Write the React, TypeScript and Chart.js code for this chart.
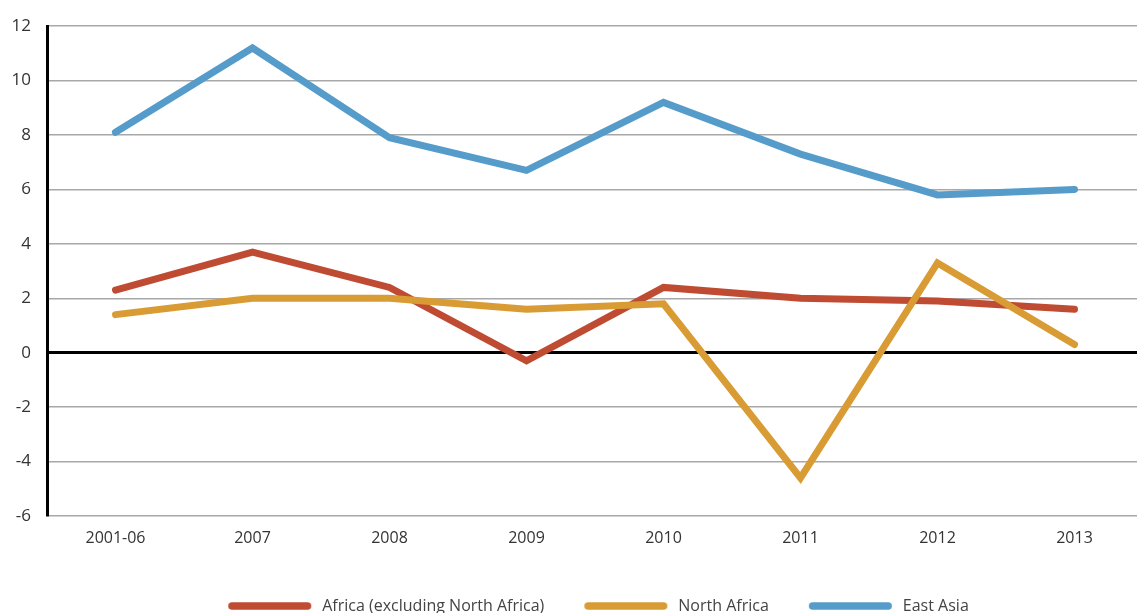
import React, { useEffect, useRef } from "react";
import { Chart, registerables } from "chart.js";

Chart.register(...registerables);

const categories = ["2001-06", "2007", "2008", "2009", "2010", "2011", "2012", "2013"];
const africaExNorth = [2.3, 3.7, 2.4, -0.3, 2.4, 2.0, 1.9, 1.6];
const northAfrica = [1.4, 2.0, 2.0, 1.6, 1.8, -4.6, 3.3, 0.3];
const eastAsia = [8.1, 11.2, 7.9, 6.7, 9.2, 7.3, 5.8, 6.0];
const seriesNames = ["Africa (excluding North Africa)", "North Africa", "East Asia"];
const seriesColors = ["#BF4B32", "#D99C34", "#559CCB"];

const FONT = "'Open Sans', 'Noto Sans', sans-serif";

// legend marker: a thick round-capped line with a left margin
const MARK_W = 116;
const MARK_MARGIN = 30;
const MARK_LEN = 83;
function makeMarker(color: string): HTMLCanvasElement {
  const c = document.createElement("canvas");
  c.width = MARK_W;
  c.height = 12;
  const g = c.getContext("2d")!;
  g.strokeStyle = color;
  g.lineWidth = 7.5;
  g.lineCap = "round";
  g.beginPath();
  g.moveTo(MARK_MARGIN + 3.75, 6);
  g.lineTo(MARK_MARGIN + MARK_LEN - 3.75, 6);
  g.stroke();
  return c;
}

// nudges the legend block slightly to the right, as in the source figure
const legendShift = {
  id: "legendShift",
  afterLayout(chart: any) {
    if (chart.legend) {
      chart.legend.left += 12;
      chart.legend.right += 12;
    }
  },
};

export default function App() {
  const ref = useRef<HTMLCanvasElement | null>(null);

  useEffect(() => {
    if (!ref.current) return;
    const mk = (i: number, data: number[], order: number) => ({
      label: seriesNames[i],
      data,
      borderColor: seriesColors[i],
      backgroundColor: seriesColors[i],
      borderWidth: 7,
      borderCapStyle: "round" as const,
      borderJoinStyle: "miter" as const,
      pointRadius: 0,
      pointHoverRadius: 0,
      pointStyle: makeMarker(seriesColors[i]),
      tension: 0,
      fill: false,
      order,
    });
    const chart = new Chart(ref.current, {
      type: "line",
      data: {
        labels: categories,
        datasets: [mk(0, africaExNorth, 3), mk(1, northAfrica, 2), mk(2, eastAsia, 1)],
      },
      plugins: [legendShift],
      options: {
        responsive: false,
        animation: false,
        devicePixelRatio: 1,
        layout: { padding: { left: 0, right: 0, top: 24, bottom: 0 } },
        plugins: {
          tooltip: { enabled: false },
          legend: {
            position: "bottom",
            labels: {
              usePointStyle: true,
              pointStyleWidth: MARK_W,
              boxHeight: 8,
              padding: 10,
              color: "#444",
              font: { family: FONT, size: 16 },
              sort: (a: any, b: any) => a.datasetIndex - b.datasetIndex,
            },
          },
        },
        scales: {
          x: {
            offset: true,
            grid: { display: false, drawTicks: false },
            border: { display: false },
            ticks: { color: "#333", font: { family: FONT, size: 16 }, padding: 13 },
            afterFit: (s: any) => {
              s.height = 72;
            },
          },
          y: {
            min: -6,
            max: 12,
            ticks: {
              stepSize: 2,
              color: "#333",
              font: { family: FONT, size: 17 },
              padding: 16,
            },
            grid: {
              drawTicks: false,
              color: (ctx: any) => (ctx.tick && ctx.tick.value === 0 ? "#000" : "#a8a8a8"),
              lineWidth: (ctx: any) => (ctx.tick && ctx.tick.value === 0 ? 3 : 1.5),
            },
            border: { display: true, color: "#000", width: 3 },
            afterFit: (s: any) => {
              s.width = 47;
            },
          },
        },
      },
    });
    return () => chart.destroy();
  }, []);

  return (
    <div style={{ position: "fixed", left: 0, top: 0, width: 1143, height: 624, background: "#fff" }}>
      <canvas ref={ref} width={1143} height={624} style={{ display: "block" }} />
    </div>
  );
}
